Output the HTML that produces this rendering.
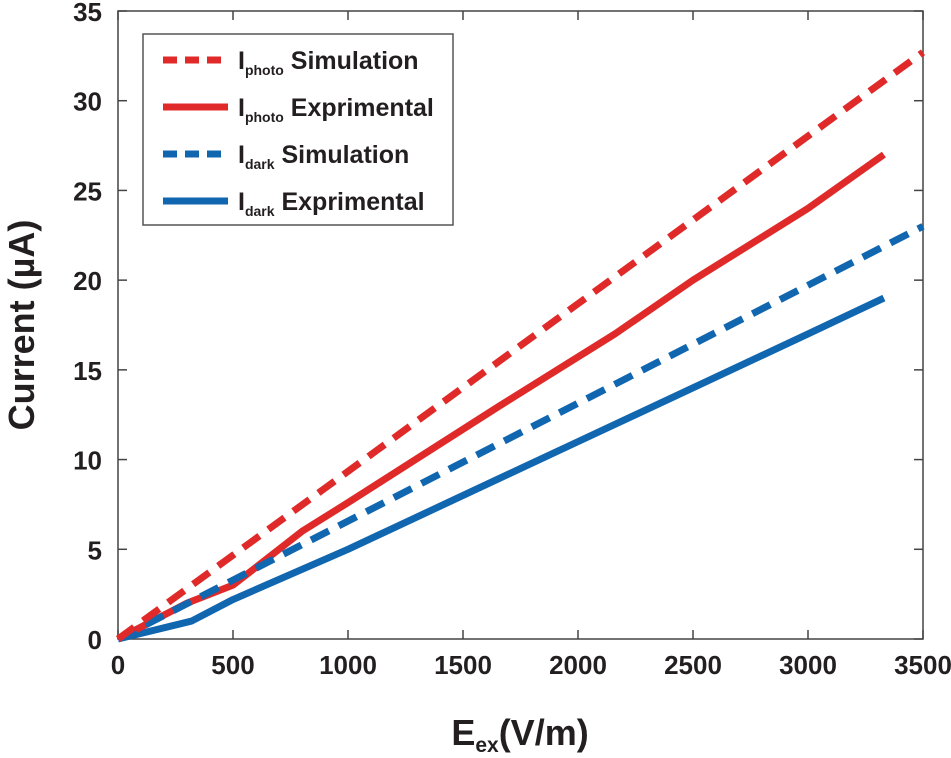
<!DOCTYPE html>
<html><head><meta charset="utf-8"><style>
body{margin:0;background:#fff;}
text{font-family:"Liberation Sans",sans-serif;font-weight:bold;fill:#231f20;}
</style></head><body>
<svg id="chart" width="951" height="753">
<rect x="118" y="11" width="805" height="628" fill="#fff" stroke="#444" stroke-width="1.5"/>
<g id="ticks"></g>
<g id="series"></g>
<g>
<rect x="143" y="34" width="310" height="191" fill="#fff" stroke="#555" stroke-width="1.5"/>
<line x1="163" y1="60" x2="222" y2="60" stroke="#e02a2a" stroke-width="7" stroke-dasharray="14,8"/>
<line x1="163" y1="107" x2="228" y2="107" stroke="#e02a2a" stroke-width="7"/>
<line x1="163" y1="154" x2="222" y2="154" stroke="#1166b0" stroke-width="7" stroke-dasharray="14,8"/>
<line x1="163" y1="201" x2="228" y2="201" stroke="#1166b0" stroke-width="7"/>
<text x="238" y="69" font-size="25">I<tspan font-size="14" dy="6">photo</tspan><tspan dy="-6"> Simulation</tspan></text>
<text x="238" y="116" font-size="25">I<tspan font-size="14" dy="6">photo</tspan><tspan dy="-6"> Exprimental</tspan></text>
<text x="238" y="163" font-size="25">I<tspan font-size="14" dy="6">dark</tspan><tspan dy="-6"> Simulation</tspan></text>
<text x="238" y="210" font-size="25">I<tspan font-size="14" dy="6">dark</tspan><tspan dy="-6"> Exprimental</tspan></text>
</g>
<text x="34" y="325" font-size="36" text-anchor="middle" transform="rotate(-90 34 325)">Current (µA)</text>
<text x="520" y="745" font-size="36" text-anchor="middle">E<tspan font-size="21" dy="7">ex</tspan><tspan dy="-7">(V/m)</tspan></text>
</svg>
<script>
const xTicks=[0,500,1000,1500,2000,2500,3000,3500];
const yTicks=[0,5,10,15,20,25,30,35];
const photoSimX=[0,3500];
const photoSimY=[0,32.7];
const photoExpX=[0,300,500,800,1000,1660,2160,2500,3000,3330];
const photoExpY=[0,2,3,6,7.6,13,17,20,24,27];
const darkSimX=[0,3500];
const darkSimY=[0,23];
const darkExpX=[0,320,500,1000,1500,2000,2500,3000,3330];
const darkExpY=[0,1,2.2,5,8,11,14,17,19];
const NS='http://www.w3.org/2000/svg';
const sx=v=>118+v*805/3500;
const sy=v=>639-v*628/35;
const tg=document.getElementById('ticks');
xTicks.forEach(v=>{
 const l=document.createElementNS(NS,'line');
 l.setAttribute('x1',sx(v));l.setAttribute('x2',sx(v));l.setAttribute('y1',639);l.setAttribute('y2',630);
 l.setAttribute('stroke','#444');l.setAttribute('stroke-width','1.5');
 
 
 tg.appendChild(l);
 const l2=l.cloneNode();l2.setAttribute('y1',11);l2.setAttribute('y2',20);
 
 
 tg.appendChild(l2);
 const t=document.createElementNS(NS,'text');
 t.setAttribute('x',sx(v));t.setAttribute('y',674);t.setAttribute('font-size','26');t.setAttribute('text-anchor','middle');
 t.textContent=v;
 
 
 tg.appendChild(t);
});
yTicks.forEach(v=>{
 const l=document.createElementNS(NS,'line');
 l.setAttribute('x1',118);l.setAttribute('x2',127);l.setAttribute('y1',sy(v));l.setAttribute('y2',sy(v));
 l.setAttribute('stroke','#444');l.setAttribute('stroke-width','1.5');
 
 
 tg.appendChild(l);
 const l2=l.cloneNode();l2.setAttribute('x1',923);l2.setAttribute('x2',914);
 
 
 tg.appendChild(l2);
 const t=document.createElementNS(NS,'text');
 t.setAttribute('x',102);t.setAttribute('y',sy(v)+10);t.setAttribute('font-size','26');t.setAttribute('text-anchor','end');
 t.textContent=v;
 
 
 tg.appendChild(t);
});
const sg=document.getElementById('series');
function line(xs,ys,color,dash,name){
 const p=document.createElementNS(NS,'polyline');
 p.setAttribute('points',xs.map((x,i)=>sx(x)+','+sy(ys[i])).join(' '));
 p.setAttribute('fill','none');p.setAttribute('stroke',color);p.setAttribute('stroke-width','7');
 p.setAttribute('stroke-linejoin','round');
 if(dash)p.setAttribute('stroke-dasharray','20,11');
 
 
 sg.appendChild(p);
}
line(darkExpX,darkExpY,'#1166b0',false,'series-dark-experimental');
line(photoExpX,photoExpY,'#e02a2a',false,'series-photo-experimental');
line(darkSimX,darkSimY,'#1166b0',true,'series-dark-simulation');
line(photoSimX,photoSimY,'#e02a2a',true,'series-photo-simulation');
</script>
</body></html>
